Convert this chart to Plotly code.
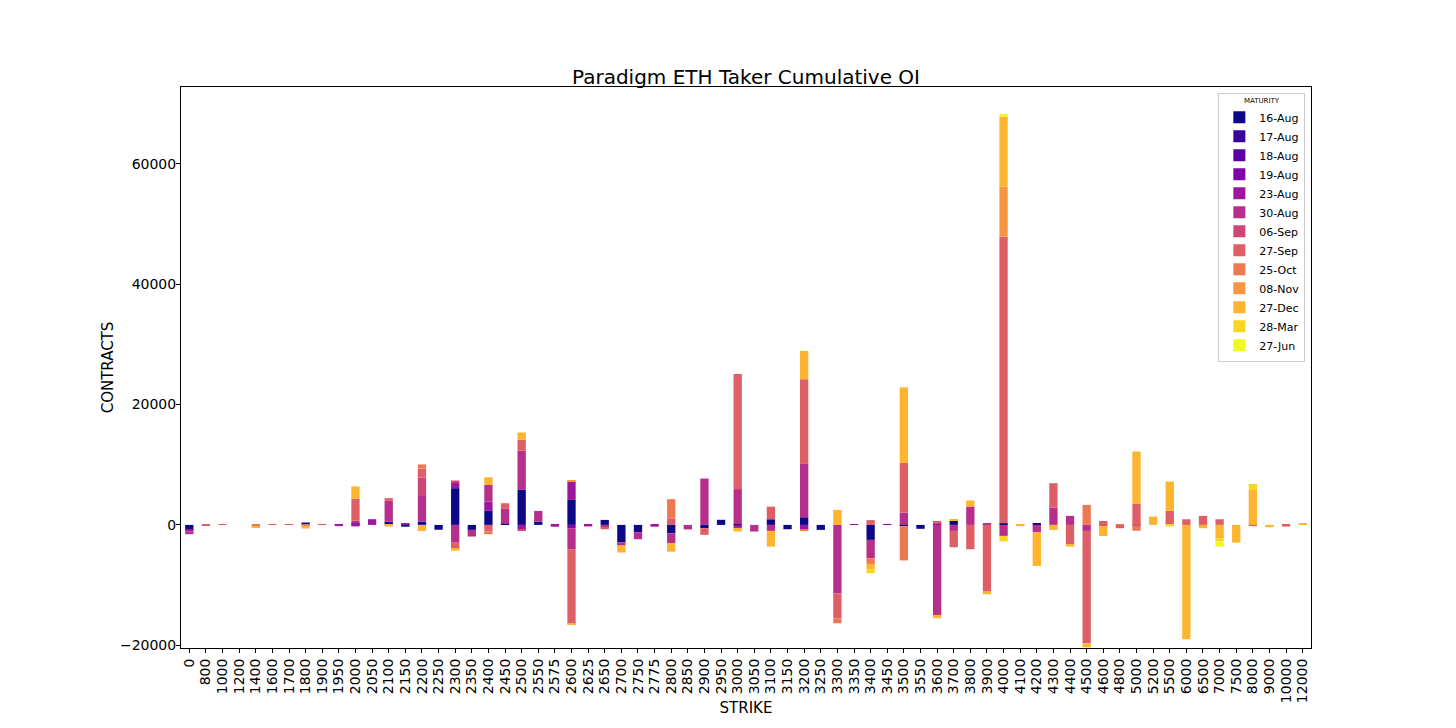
import plotly.graph_objects as go

strikes = ["0", "800", "1000", "1200", "1400", "1600", "1700", "1800", "1900", "1950",
           "2000", "2050", "2100", "2150", "2200", "2250", "2300", "2350", "2400", "2450",
           "2500", "2550", "2575", "2600", "2625", "2650", "2700", "2750", "2775", "2800",
           "2850", "2900", "2950", "3000", "3050", "3100", "3150", "3200", "3250", "3300",
           "3350", "3400", "3450", "3500", "3550", "3600", "3700", "3800", "3900", "4000",
           "4100", "4200", "4300", "4400", "4500", "4600", "4800", "5000", "5200", "5500",
           "6000", "6500", "7000", "7500", "8000", "9000", "10000", "12000"]

maturities = ["16-Aug", "17-Aug", "18-Aug", "19-Aug", "23-Aug", "30-Aug", "06-Sep",
              "27-Sep", "25-Oct", "08-Nov", "27-Dec", "28-Mar", "27-Jun"]

y_tick_values = [-20000, 0, 20000, 40000, 60000]
y_tick_labels = ["\u221220000", "0", "20000", "40000", "60000"]

Z10 = [0] * 10
Z8 = [0] * 8

aug16 = ([-800, 0, 0, 0, 0, 0, 0, 400, 0, 0]
         + [200, 0, 550, -300, 550, -800, 6100, -830, 2330, 170]
         + [5820, 550, 0, 4150, 0, 830, -2880, -1220, 0, -1390]
         + [0, -550, 850, 150, 0, 940, -720, 1270, -830, 0]
         + [0, -2490, 0, -200, -650, 0, 660, 0, 0, 280]
         + [0, 200, 0, 0, 0, 0, 0, 0, 0, 0]
         + Z8)
aug17 = Z10 * 6 + Z8
aug18 = Z10 * 6 + Z8
aug19 = ([0] * 23 + [-550] + [0] * 18 + [100] + [0] * 25)
aug23 = ([-300, 0, 0, 0, 0, 0, 0, 0, 0, -200]
         + [-250, 950, 0, 300, 0, 0, 950, 0, 1550, 0]
         + [-720, 0, -300, 3100, -250, 0, 0, 0, -300, 0]
         + [0, 0, 0, -500, 0, 0, 0, -830, 0, 0]
         + [80, 0, 0, 0, 0, 200, 0, 0, 0, 0]
         + Z10 + Z8)
aug30 = ([-450, 0, 0, 0, 0, 0, 0, 0, 0, 0]
         + [500, 0, 3450, 0, 4400, 0, -2950, -1100, 2770, 2490]
         + [6540, 1770, 0, -3550, 0, -440, -550, -1160, 0, -1660]
         + [-750, 7700, 0, 5800, -1100, -1000, 0, 8860, 0, -11360]
         + [0, -3050, 0, 2050, 0, -14950, -1000, 3050, 280, -1830]
         + [0, -1220, 2880, 1500, -1000, 0, 0, 0, 0, 0]
         + Z8)
sep06 = (Z10
         + [0, 0, 0, 0, 2900, 0, 330, 0, 0, 0]
         + [-220, 0, 0, 0, 0, 0, 0, 0, 0, 0]
         + Z10 + Z10
         + [0, 0, 0, 0, 0, -150, 0, -170, 0, 0]
         + Z8)
sep27 = ([0, -150, 150, 0, 0, 100, 150, 0, 100, 0]
         + [3650, 0, 450, 0, 1500, 0, -1050, 0, -1100, 940]
         + [1770, 0, 0, -12350, 0, -280, 0, 0, 0, 1000]
         + [0, -1100, 0, 19100, 0, 2100, 0, 14070, 0, -4150]
         + [0, 800, 0, 8250, 0, 450, -2710, -4040, -11080, 47610]
         + [100, 0, 4040, -3320, -18670, 650, -550, 3490, 0, 2330]
         + [940, 1500, 940, 0, -200, 0, -280, 0])
oct25 = ([0, 0, 0, 0, -200, 0, 0, -200, 0, 0]
         + [0, 0, 0, 0, 700, 0, 0, 0, -450, 0]
         + [0, 0, 0, 0, 0, 0, 0, 0, 0, 3270]
         + [0, 0, 0, 0, 0, 0, 0, -170, 0, -830]
         + [0, -940, 0, -5700, 0, 0, 0, 0, 0, 0]
         + [0, 0, 0, 0, 3320, 0, 150, -800, 0, 0]
         + Z8)
nov08 = ([0] * 23 + [200] + [0] * 25 + [8300] + [0] * 18)
dec27 = ([0, 0, 0, 0, -300, 0, 0, -400, 0, 0]
         + [2050, 0, -280, 0, -1000, 0, -280, 0, 1270, 0]
         + [1220, 0, 0, -170, 0, 0, -1160, 0, 0, -1390]
         + [0, 0, 0, -600, 0, -2600, 0, 4700, 0, 2490]
         + [0, -890, 0, 12550, 0, -550, 280, 1000, -440, 11630]
         + [-200, -5600, -830, -280, -660, -1700, 0, 8700, 1390, 4870]
         + [-19000, -550, -2220, -2940, 5800, -390, 0, 170])
mar28 = ([0] * 41 + [-660] + [0] * 7 + [-900] + [0] * 9 + [-250] + [0] * 2 + [-500] + [0] + [1000] + [0] * 3)
jun27 = ([0] * 49 + [450] + [0] * 12 + [-900] + [0] * 5)

series = [aug16, aug17, aug18, aug19, aug23, aug30, sep06,
          sep27, oct25, nov08, dec27, mar28, jun27]

colors = ["#0d0887", "#3a049a", "#5c01a6", "#7e03a8", "#9c179e", "#b6308b", "#cc4778",
          "#de5f65", "#ed7953", "#f89540", "#fdb42f", "#fbd524", "#f0f921"]

fig = go.Figure()
for name, vals, col in zip(maturities, series, colors):
    fig.add_trace(go.Bar(x=strikes, y=vals, name=name,
                         marker=dict(color=col, line=dict(width=0))))

FONT = "DejaVu Sans"
fig.update_layout(
    width=1440, height=712,
    barmode="relative", bargap=0.5,
    paper_bgcolor="white", plot_bgcolor="white",
    margin=dict(l=173, r=137, t=79, b=72),
    font=dict(family=FONT, color="black"),
    title=dict(text="Paradigm ETH Taker Cumulative OI", x=0.5, xref="paper",
               y=1 - 69 / 712, yref="container", yanchor="middle",
               font=dict(size=20, family=FONT, color="black")),
    showlegend=True,
    legend=dict(title=dict(text="MATURITY", font=dict(size=7), side="top center"),
                x=0.995, y=0.99, xanchor="right", yanchor="top",
                bgcolor="rgba(255,255,255,0.8)", bordercolor="#cccccc", borderwidth=1,
                font=dict(size=11), tracegroupgap=0, itemsizing="constant"),
)
fig.update_xaxes(
    type="category", tickangle=-90, tickfont=dict(size=14),
    tickmode="array", tickvals=strikes, ticktext=strikes,
    showline=True, linecolor="black", linewidth=1, mirror=True,
    ticks="outside", ticklen=4, tickcolor="black", showgrid=False,
    title=dict(text="STRIKE", font=dict(size=15), standoff=0),
    automargin=False,
)
fig.update_yaxes(
    range=[-20450, 72750], tickmode="array",
    tickvals=y_tick_values, ticktext=y_tick_labels,
    tickfont=dict(size=14), ticklabelstandoff=-3,
    showline=True, linecolor="black", linewidth=1, mirror=True,
    ticks="outside", ticklen=4, tickcolor="black", showgrid=False, zeroline=False,
    title=dict(text="CONTRACTS", font=dict(size=15), standoff=2),
    automargin=False,
)
fig.write_html("out.html")
